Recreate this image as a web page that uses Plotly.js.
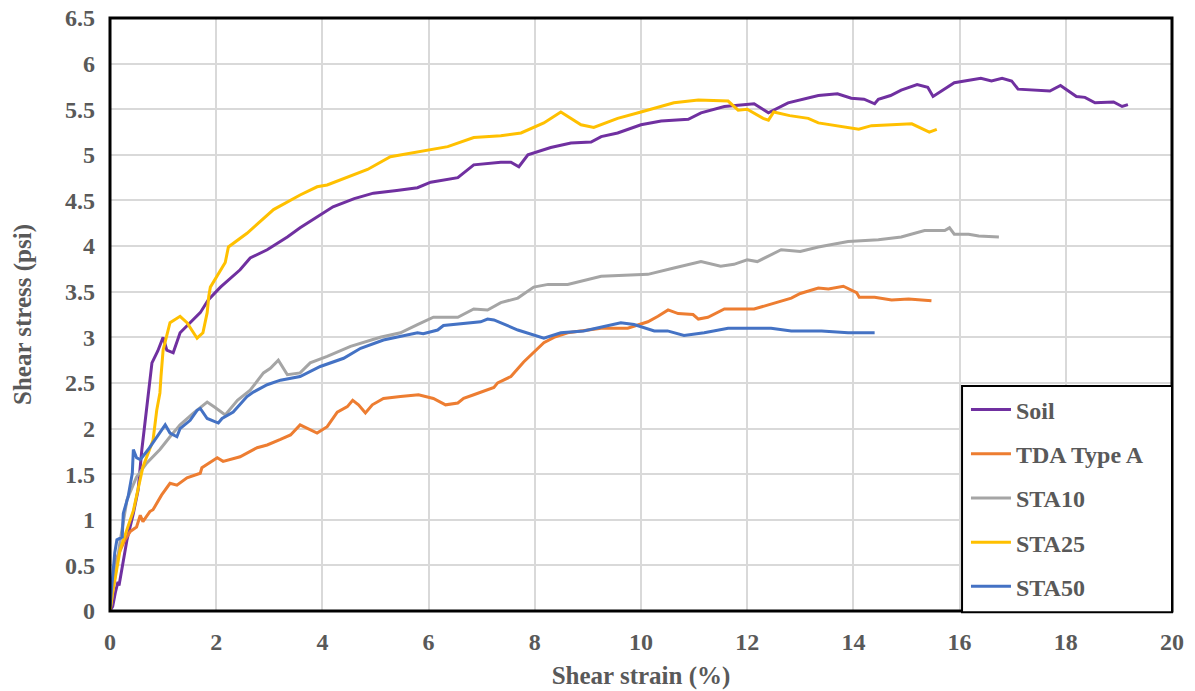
<!DOCTYPE html>
<html>
<head>
<meta charset="utf-8">
<script src="https://cdn.plot.ly/plotly-3.0.1.min.js"></script>
<style>html,body{margin:0;padding:0;background:#fff;}#chart{width:1195px;height:691px;}</style>
</head>
<body>
<div id="chart"></div>
<script>
// Shear strain (%) and shear stress (psi) for each sample
const soilX = [0,0.05,0.1,0.15,0.17,0.32,0.44,0.53,0.6,0.66,0.7,0.75,0.79,0.9,1.0,1.07,1.19,1.32,1.5,1.7,1.85,2.08,2.45,2.64,2.96,3.34,3.58,3.9,4.2,4.6,4.96,5.4,5.79,6.04,6.55,6.85,7.36,7.55,7.7,7.87,8.3,8.68,9.06,9.25,9.56,10.0,10.38,10.89,11.13,11.57,12.13,12.4,12.77,13.34,13.7,13.96,14.2,14.4,14.47,14.7,14.9,15.2,15.4,15.5,15.9,16.4,16.6,16.8,16.98,17.1,17.7,17.9,18.2,18.36,18.55,18.9,19.06,19.17];
const soilY = [0,0.05,0.2,0.32,0.28,0.78,1.07,1.33,1.77,2.06,2.31,2.53,2.72,2.85,3.0,2.86,2.83,3.05,3.15,3.27,3.41,3.55,3.74,3.87,3.96,4.1,4.2,4.32,4.43,4.52,4.58,4.61,4.64,4.7,4.75,4.89,4.92,4.92,4.87,5.0,5.08,5.13,5.14,5.2,5.24,5.33,5.37,5.39,5.46,5.53,5.56,5.46,5.57,5.65,5.67,5.62,5.61,5.56,5.61,5.65,5.71,5.77,5.74,5.64,5.79,5.84,5.81,5.84,5.81,5.72,5.70,5.76,5.64,5.63,5.57,5.58,5.53,5.55];

const tdaX = [0,0.09,0.28,0.38,0.5,0.57,0.62,0.75,0.81,0.97,1.13,1.26,1.45,1.7,1.73,2.02,2.13,2.45,2.77,2.96,3.21,3.4,3.58,3.9,4.09,4.28,4.47,4.57,4.68,4.81,4.94,5.15,5.47,5.81,6.09,6.32,6.55,6.66,6.85,6.98,7.23,7.3,7.55,7.79,7.98,8.17,8.36,8.62,9.25,9.75,10.13,10.32,10.51,10.7,10.98,11.08,11.26,11.57,12.13,12.5,12.83,13.0,13.34,13.53,13.81,14.06,14.11,14.4,14.72,15.04,15.47];
const tdaY = [0,0.53,0.78,0.87,0.92,1.05,0.98,1.09,1.11,1.27,1.4,1.38,1.46,1.51,1.57,1.68,1.64,1.69,1.79,1.82,1.88,1.93,2.04,1.95,2.02,2.18,2.24,2.31,2.26,2.17,2.26,2.33,2.35,2.37,2.33,2.26,2.28,2.33,2.37,2.4,2.45,2.5,2.57,2.73,2.83,2.94,3.0,3.05,3.1,3.1,3.17,3.23,3.3,3.26,3.25,3.2,3.22,3.31,3.31,3.37,3.43,3.48,3.54,3.53,3.56,3.49,3.44,3.44,3.41,3.42,3.4];

const sta10X = [0,0.1,0.2,0.32,0.5,0.69,0.94,1.13,1.32,1.57,1.83,1.98,2.17,2.4,2.64,2.89,3.02,3.17,3.34,3.58,3.77,4.09,4.53,5.09,5.47,5.79,6.09,6.55,6.85,7.11,7.36,7.68,7.98,8.25,8.62,9.25,10.13,10.62,11.13,11.5,11.75,12.0,12.19,12.64,13.0,13.34,13.9,14.47,14.9,15.34,15.72,15.81,15.9,16.17,16.36,16.74];
const sta10Y = [0,0.4,0.8,1.22,1.47,1.62,1.77,1.91,2.04,2.17,2.29,2.23,2.15,2.31,2.42,2.61,2.66,2.75,2.59,2.61,2.72,2.79,2.9,3.0,3.05,3.14,3.22,3.22,3.31,3.3,3.38,3.43,3.55,3.58,3.58,3.67,3.69,3.76,3.83,3.78,3.8,3.85,3.83,3.96,3.94,3.99,4.05,4.07,4.1,4.17,4.17,4.2,4.13,4.13,4.11,4.1];

const sta25X = [0,0.05,0.19,0.44,0.62,0.81,0.88,0.94,0.96,1.0,1.13,1.32,1.45,1.64,1.75,1.83,1.86,1.89,2.17,2.23,2.58,3.08,3.58,3.9,4.09,4.85,5.28,5.79,6.36,6.85,7.36,7.74,8.17,8.49,8.87,9.11,9.56,10.0,10.62,11.08,11.64,11.83,12.0,12.3,12.4,12.5,12.8,13.15,13.34,14.1,14.34,15.1,15.43,15.57];
const sta25Y = [0,0.2,0.67,1.1,1.58,1.87,2.2,2.39,2.57,2.86,3.16,3.23,3.16,2.99,3.05,3.27,3.45,3.55,3.82,3.99,4.14,4.4,4.56,4.65,4.67,4.84,4.98,5.03,5.09,5.19,5.21,5.24,5.35,5.47,5.33,5.3,5.4,5.47,5.57,5.6,5.59,5.49,5.5,5.4,5.38,5.47,5.43,5.4,5.35,5.28,5.32,5.34,5.25,5.28];

const sta50X = [0,0.09,0.13,0.23,0.25,0.34,0.42,0.44,0.5,0.57,0.72,1.04,1.13,1.26,1.32,1.51,1.64,1.7,1.83,2.04,2.11,2.32,2.58,2.7,2.96,3.21,3.58,3.96,4.4,4.72,5.15,5.79,5.9,6.17,6.28,6.74,6.98,7.11,7.23,7.68,8.17,8.49,8.92,9.62,9.87,10.25,10.5,10.81,11.19,11.64,11.94,12.45,12.83,13.4,13.9,14.4];
const sta50Y = [0.05,0.64,0.78,0.81,1.07,1.25,1.51,1.77,1.68,1.66,1.77,2.04,1.95,1.91,2.0,2.09,2.2,2.22,2.11,2.06,2.11,2.18,2.35,2.4,2.48,2.53,2.57,2.68,2.77,2.88,2.97,3.05,3.04,3.08,3.13,3.16,3.17,3.2,3.19,3.08,2.99,3.05,3.07,3.16,3.14,3.07,3.07,3.02,3.05,3.1,3.1,3.1,3.07,3.07,3.05,3.05];

const seriesNames = ['Soil','TDA Type A','STA10','STA25','STA50'];
const seriesColors = ['#7030A0','#ED7D31','#A5A5A5','#FFC000','#4472C4'];
const seriesX = [soilX, tdaX, sta10X, sta25X, sta50X];
const seriesY = [soilY, tdaY, sta10Y, sta25Y, sta50Y];

const xTicks = [0,2,4,6,8,10,12,14,16,18,20];
const yTicks = [0,0.5,1,1.5,2,2.5,3,3.5,4,4.5,5,5.5,6,6.5];

const traces = seriesNames.map((n,i)=>({
  type:'scatter', mode:'lines', name:n, legendgroup:'g'+i,
  x:seriesX[i], y:seriesY[i],
  line:{color:seriesColors[i], width:3}
}));

const fontFam = '"Liberation Serif","Times New Roman",serif';
const layout = {
  width:1195, height:691,
  margin:{l:110, r:23, t:18, b:80},
  paper_bgcolor:'#fff', plot_bgcolor:'#fff',
  font:{family:fontFam, color:'#595959', size:24},
  xaxis:{
    range:[0,20], tickvals:xTicks, ticktext:xTicks.map(String),
    showgrid:true, gridcolor:'#D9D9D9', gridwidth:2,
    zeroline:false, showline:false, ticks:'', ticklabelstandoff:14,
    tickfont:{family:fontFam, size:24, color:'#595959', weight:'bold'},
    title:{text:'<b>Shear strain (%)</b>', font:{family:fontFam, size:25, color:'#595959'}, standoff:12}
  },
  yaxis:{
    range:[0,6.5], tickvals:yTicks, ticktext:yTicks.map(String),
    showgrid:true, gridcolor:'#D9D9D9', gridwidth:2,
    zeroline:false, showline:false, ticks:'', ticklabelstandoff:14,
    tickfont:{family:fontFam, size:24, color:'#595959', weight:'bold'},
    title:{text:'<b>Shear stress (psi)</b>', font:{family:fontFam, size:25, color:'#595959'}, standoff:26}
  },
  legend:{
    x:0.806, y:0.377, xanchor:'left', yanchor:'top',
    bgcolor:'rgba(0,0,0,0)', borderwidth:0,
    font:{family:fontFam, size:24, color:'#595959', weight:'bold'},
    tracegroupgap:10, traceorder:'grouped', itemwidth:40
  },
  shapes:[
    {type:'rect', xref:'paper', yref:'paper', x0:0, x1:1, y0:0, y1:1, line:{color:'#000', width:3}},
    {type:'rect', xref:'paper', yref:'paper', x0:0.8023, x1:1, y0:-0.002, y1:0.3794, layer:'above', fillcolor:'#fff', line:{color:'#000', width:2}}
  ],
  showlegend:true
};
Plotly.newPlot('chart', traces, layout, {displayModeBar:false, staticPlot:true});
</script>
</body>
</html>
